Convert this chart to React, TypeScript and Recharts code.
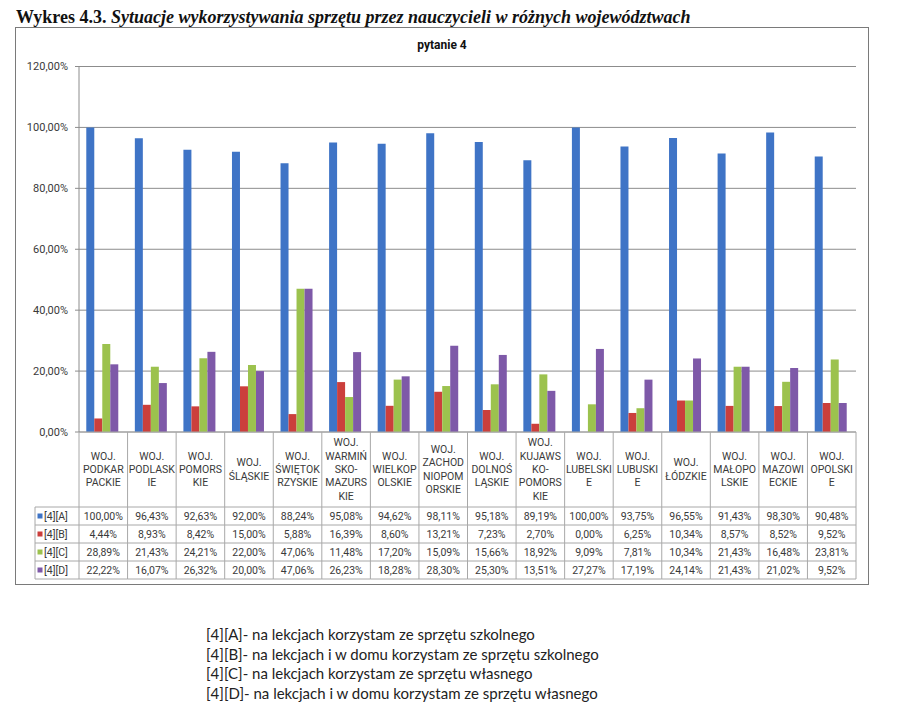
import React from 'react';
import { BarChart, Bar, XAxis, YAxis, CartesianGrid } from 'recharts';

const CATEGORIES = [
  'WOJ.\nPODKAR\nPACKIE',
  'WOJ.\nPODLASK\nIE',
  'WOJ.\nPOMORS\nKIE',
  'WOJ.\nŚLĄSKIE',
  'WOJ.\nŚWIĘTOK\nRZYSKIE',
  'WOJ.\nWARMIŃ\nSKO-\nMAZURS\nKIE',
  'WOJ.\nWIELKOP\nOLSKIE',
  'WOJ.\nZACHOD\nNIOPOM\nORSKIE',
  'WOJ.\nDOLNOŚ\nLĄSKIE',
  'WOJ.\nKUJAWS\nKO-\nPOMORS\nKIE',
  'WOJ.\nLUBELSKI\nE',
  'WOJ.\nLUBUSKI\nE',
  'WOJ.\nŁÓDZKIE',
  'WOJ.\nMAŁOPO\nLSKIE',
  'WOJ.\nMAZOWI\nECKIE',
  'WOJ.\nOPOLSKI\nE',
];

const SERIES_A = [100.0, 96.43, 92.63, 92.0, 88.24, 95.08, 94.62, 98.11, 95.18, 89.19, 100.0, 93.75, 96.55, 91.43, 98.3, 90.48];
const SERIES_B = [4.44, 8.93, 8.42, 15.0, 5.88, 16.39, 8.6, 13.21, 7.23, 2.7, 0.0, 6.25, 10.34, 8.57, 8.52, 9.52];
const SERIES_C = [28.89, 21.43, 24.21, 22.0, 47.06, 11.48, 17.2, 15.09, 15.66, 18.92, 9.09, 7.81, 10.34, 21.43, 16.48, 23.81];
const SERIES_D = [22.22, 16.07, 26.32, 20.0, 47.06, 26.23, 18.28, 28.3, 25.3, 13.51, 27.27, 17.19, 24.14, 21.43, 21.02, 9.52];

const SERIES_KEYS = ['A', 'B', 'C', 'D'];
const SERIES_VALUES = [SERIES_A, SERIES_B, SERIES_C, SERIES_D];
const SERIES_NAMES = ['[4][A]', '[4][B]', '[4][C]', '[4][D]'];
const SERIES_COLORS = ['#3F74C6', '#CB3F3C', '#9CC24E', '#7E59A8'];

const Y_TICKS = [0, 20, 40, 60, 80, 100, 120];

const TITLE_BOLD = 'Wykres 4.3.';
const TITLE_ITALIC = ' Sytuacje wykorzystywania sprzętu przez nauczycieli w różnych województwach';
const CHART_TITLE = 'pytanie 4';

const NOTES = [
  '[4][A]- na lekcjach korzystam ze sprzętu szkolnego',
  '[4][B]- na lekcjach i w domu korzystam ze sprzętu szkolnego',
  '[4][C]- na lekcjach korzystam ze sprzętu własnego',
  '[4][D]- na lekcjach i w domu korzystam ze sprzętu własnego',
];

const data = CATEGORIES.map((name, i) => {
  const row: any = { name };
  SERIES_KEYS.forEach((k, s) => {
    row[k] = SERIES_VALUES[s][i];
  });
  return row;
});

const fmt = (v: number) => v.toFixed(2).replace('.', ',') + '%';

// layout
const CHART_LEFT = 15;
const CHART_TOP = 27;
const CHART_W = 854;
const CHART_H = 558;
const PLOT_L = 64;
const PLOT_R = 841;
const PLOT_TOP = 39.5;
const AXIS_Y = 432 - CHART_TOP;
const BAND = (PLOT_R - PLOT_L) / CATEGORIES.length;
const HEADER_H = 75;
const ROW_H = 18;
const LEG_L = 20;
const TABLE_LINE = '#a8a8a8';
const TEXT_COLOR = '#3a3a3a';
const FONT = 'Roboto, "Liberation Sans", sans-serif';
const TABLE_FS = 10.5;

function TableTick(props: any) {
  const { x, y, payload } = props;
  const i = CATEGORIES.indexOf(payload.value);
  if (i < 0) return null;
  const left = x - BAND / 2;
  const right = x + BAND / 2;
  const lines = CATEGORIES[i].split('\n');
  const lh = 13.3;
  const hc = y + HEADER_H / 2;
  const startY = hc - ((lines.length - 1) * lh) / 2;
  const rowsTop = y + HEADER_H;
  const bottom = rowsTop + ROW_H * SERIES_KEYS.length;
  const isLast = i === CATEGORIES.length - 1;
  return (
    <g>
      <line x1={left} y1={y} x2={left} y2={bottom} stroke={TABLE_LINE} strokeWidth={1} />
      {isLast && <line x1={right} y1={y} x2={right} y2={bottom} stroke={TABLE_LINE} strokeWidth={1} />}
      {lines.map((t, k) => (
        <text
          key={k}
          x={x}
          y={startY + k * lh}
          textAnchor="middle"
          dominantBaseline="central"
          fontSize={TABLE_FS}
          fontFamily={FONT}
          fill={TEXT_COLOR}
        >
          {t}
        </text>
      ))}
      {SERIES_KEYS.map((_, r) => (
        <line
          key={'h' + r}
          x1={left}
          x2={right}
          y1={rowsTop + r * ROW_H}
          y2={rowsTop + r * ROW_H}
          stroke={TABLE_LINE}
          strokeWidth={1}
        />
      ))}
      <line x1={left} x2={right} y1={bottom} y2={bottom} stroke={TABLE_LINE} strokeWidth={1} />
      {SERIES_VALUES.map((vals, r) => (
        <text
          key={'v' + r}
          x={x}
          y={rowsTop + ROW_H * (r + 0.5)}
          textAnchor="middle"
          dominantBaseline="central"
          fontSize={TABLE_FS}
          fontFamily={FONT}
          fill={TEXT_COLOR}
        >
          {fmt(vals[i])}
        </text>
      ))}
      {i === 0 && (
        <g>
          <line x1={LEG_L} y1={rowsTop} x2={LEG_L} y2={bottom} stroke={TABLE_LINE} strokeWidth={1} />
          {SERIES_NAMES.map((n, r) => (
            <g key={'l' + r}>
              <line
                x1={LEG_L}
                x2={left}
                y1={rowsTop + r * ROW_H}
                y2={rowsTop + r * ROW_H}
                stroke={TABLE_LINE}
                strokeWidth={1}
              />
              <rect
                x={LEG_L + 2.5}
                y={rowsTop + ROW_H * (r + 0.5) - 2.5}
                width={5}
                height={5}
                fill={SERIES_COLORS[r]}
              />
              <text
                x={LEG_L + 9}
                y={rowsTop + ROW_H * (r + 0.5)}
                dominantBaseline="central"
                fontSize={TABLE_FS}
                fontFamily={FONT}
                fill={TEXT_COLOR}
              >
                {n}
              </text>
            </g>
          ))}
          <line x1={LEG_L} x2={left} y1={bottom} y2={bottom} stroke={TABLE_LINE} strokeWidth={1} />
        </g>
      )}
    </g>
  );
}

export default function App() {
  return (
    <div
      style={{
        position: 'absolute',
        left: 0,
        top: 0,
        width: 899,
        height: 713,
        background: '#ffffff',
        overflow: 'hidden',
      }}
    >
      <div
        style={{
          position: 'absolute',
          left: 16,
          top: 7,
          whiteSpace: 'nowrap',
          fontFamily: '"Liberation Serif", "Times New Roman", serif',
          fontSize: 18,
          fontWeight: 'bold',
          color: '#111',
          lineHeight: '20px',
        }}
      >
        <span>{TITLE_BOLD}</span>
        <span style={{ fontStyle: 'italic' }}>{TITLE_ITALIC}</span>
      </div>
      <div
        style={{
          position: 'absolute',
          left: CHART_LEFT,
          top: CHART_TOP,
          width: CHART_W,
          height: CHART_H,
          border: '1px solid #7a7a7a',
          boxSizing: 'border-box',
        }}
      />
      <div
        style={{
          position: 'absolute',
          left: CHART_LEFT,
          top: 38,
          width: CHART_W,
          textAlign: 'center',
          fontFamily: FONT,
          fontWeight: 'bold',
          fontSize: 12,
          color: '#111',
        }}
      >
        {CHART_TITLE}
      </div>
      <div style={{ position: 'absolute', left: CHART_LEFT, top: CHART_TOP }}>
        <BarChart
          width={CHART_W}
          height={CHART_H}
          data={data}
          margin={{ top: PLOT_TOP, right: CHART_W - PLOT_R, left: 0, bottom: 0 }}
          barCategoryGap="15%"
          barGap={0}
        >
          <CartesianGrid vertical={false} stroke="#8c8c8c" />
          <XAxis
            dataKey="name"
            height={CHART_H - AXIS_Y}
            interval={0}
            tickLine={false}
            tickSize={0}
            tickMargin={0}
            axisLine={{ stroke: TABLE_LINE }}
            tick={(p: any) => <TableTick {...p} />}
          />
          <YAxis
            width={PLOT_L}
            domain={[0, 120]}
            ticks={Y_TICKS}
            tickFormatter={fmt}
            tickSize={4}
            tickMargin={7}
            axisLine={{ stroke: '#8c8c8c' }}
            tickLine={{ stroke: '#8c8c8c' }}
            tick={{ fontSize: 11, fontFamily: FONT, fill: TEXT_COLOR }}
            interval={0}
          />
          {SERIES_KEYS.map((k, s) => (
            <Bar key={k} dataKey={k} name={SERIES_NAMES[s]} fill={SERIES_COLORS[s]} isAnimationActive={false} />
          ))}
        </BarChart>
      </div>
      <div
        style={{
          position: 'absolute',
          left: 206,
          top: 625,
          fontFamily: 'Lato, "Open Sans", sans-serif',
          fontSize: 15,
          lineHeight: '19.6px',
          color: '#222',
          whiteSpace: 'nowrap',
        }}
      >
        {NOTES.map((n, i) => (
          <div key={i}>{n}</div>
        ))}
      </div>
    </div>
  );
}
